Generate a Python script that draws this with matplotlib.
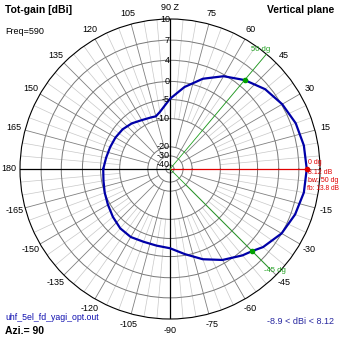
import numpy as np
import matplotlib
matplotlib.use("Agg")
import matplotlib.pyplot as plt

# pattern (vertical plane), degrees vs dBi
angles = [-180, -170, -160, -150, -140, -130, -120, -110, -100, -90, -80, -70, -60,
          -50, -45, -40, -30, -20, -10, 0, 10, 20, 30, 40, 50, 60, 70, 80, 90,
          100, 105, 110, 120, 130, 140, 150, 160, 170, 180]
gain = [-5.7, -5.5, -5.0, -4.4, -3.6, -2.8, -2.5, -2.8, -2.7, -2.3, -0.3, 1.6, 3.3,
        4.6, 5.1, 5.9, 7.0, 7.6, 8.0, 8.12, 8.0, 7.7, 7.1, 6.3, 5.1, 3.7, 1.6, -1.2, -4.8,
        -8.0, -8.9, -8.8, -8.4, -7.6, -7.0, -6.7, -6.5, -6.2, -5.7]

ring_levels = [-40, -30, -20, -10, -5, 0, 4, 7, 10]
ring_labels = ["-40", "-30", "-20", "-10", "-5", "0", "4", "7", "10"]
theta_ticks = list(range(0, 360, 15))
theta_labels = ["" if a == 0 else ("90 Z" if a == 90 else str(a if a <= 180 else a - 360))
                for a in theta_ticks]

max_gain = 8.12
bw_marks = [50, -45]

# MMANA-like radial scale (dB -> fraction of radius)
scale_db = [-50, -40, -30, -20, -10, -5, 0, 4, 7, 10]
scale_r = np.array([0, 4, 13, 22, 50, 69, 87, 108, 128, 149]) / 149.0


def fwd(x):
    return np.interp(x, scale_db, scale_r)


def inv(x):
    return np.interp(x, scale_r, scale_db)


plt.rcParams["font.family"] = ["Liberation Sans", "DejaVu Sans"]
fig = plt.figure(figsize=(3.39, 3.39), dpi=100)
ax = fig.add_axes([20 / 339, 20 / 339, 300 / 339, 300 / 339], projection="polar")
ax.set_rscale("function", functions=(fwd, inv))
ax.set_rlim(-50, 10)

ax.set_rticks(ring_levels[:-1])
ax.set_yticklabels([])
ax.yaxis.grid(True, color="#787878", lw=0.7)
ax.set_thetagrids(theta_ticks, theta_labels)
ax.xaxis.grid(False)
ax.tick_params(axis="x", pad=-2.5, labelsize=6.5)
ax.spines["polar"].set_color("black")
ax.spines["polar"].set_linewidth(0.8)

# spokes
for a in range(0, 360, 5):
    t = np.radians(a)
    if a % 30 == 0:
        ax.plot([t, t], [-30, 10], color="#808080", lw=0.6, zorder=1)
    elif a % 15 == 0:
        ax.plot([t, t], [-20, 10], color="#808080", lw=0.6, zorder=1)
    else:
        ax.plot([t, t], [-10, 10], color="#c8c8c8", lw=0.5, zorder=0.9)

# axes lines
ax.plot([np.pi, np.pi], [-50, 10], color="black", lw=0.9, zorder=2)
ax.plot([np.pi / 2, np.pi / 2], [-50, 10], color="black", lw=0.9, zorder=2)
ax.plot([-np.pi / 2, -np.pi / 2], [-50, 10], color="black", lw=0.9, zorder=2)
ax.plot([0, 0], [-50, max_gain], color="#e00000", lw=0.9, zorder=3)

# bw lines
ax.plot([np.radians(50), np.radians(50)], [-50, 10], color="#20a020", lw=0.6, zorder=3)
ax.plot([np.radians(-45), np.radians(-45)], [-50, 8.8], color="#20a020", lw=0.6, zorder=3)

# pattern
ax.plot(np.radians(angles), gain, color="#0000a8", lw=1.6, zorder=4)
for m in bw_marks:
    ax.plot(np.radians(m), gain[angles.index(m)], "o", color="#00a000", ms=3, zorder=5)
ax.plot(0, max_gain, "o", color="#e00000", ms=3, zorder=5)

for lv, lb in zip(ring_levels, ring_labels):
    ax.text(np.pi / 2, lv, lb, ha="right", va="center", fontsize=6.5,
            transform=ax.transData, zorder=6)

ax.text(np.radians(53), 10.6, "50 dg", color="#20a020", fontsize=5.5, ha="center", va="center")
ax.text(np.radians(-44), 9.5, "-45 dg", color="#20a020", fontsize=5.5, ha="center", va="center")

# corner texts
fig.text(5 / 339, 1 - 10 / 339, "Tot-gain [dBi]", fontsize=7.5, fontweight="bold", va="center")
fig.text(5 / 339, 1 - 31 / 339, "Freq=590", fontsize=6.5, va="center")
fig.text(334 / 339, 1 - 10 / 339, "Vertical plane", fontsize=7.5, fontweight="bold",
         va="center", ha="right")
fig.text(5 / 339, 1 - 318 / 339, "uhf_5el_fd_yagi_opt.out", fontsize=6.3, color="#1010b0",
         va="center")
fig.text(5 / 339, 1 - 331 / 339, "Azi.= 90", fontsize=7.5, fontweight="bold", va="center")
fig.text(334 / 339, 1 - 322 / 339, "-8.9 < dBi < 8.12", fontsize=6.5, color="#2828a0",
         va="center", ha="right")

red = "#e00000"
fig.text(308 / 339, 1 - 163 / 339, "0 dg", fontsize=5.0, color=red, va="center")
fig.text(308 / 339, 1 - 172 / 339, "8.12 dB", fontsize=5.0, color=red, va="center")
fig.text(308 / 339, 1 - 181 / 339, "bw: 50 dg", fontsize=5.0, color=red, va="center")
fig.text(307 / 339, 1 - 189 / 339, "fb: 13.8 dB", fontsize=4.8, color=red, va="center")

fig.savefig("out.png", dpi=100)
